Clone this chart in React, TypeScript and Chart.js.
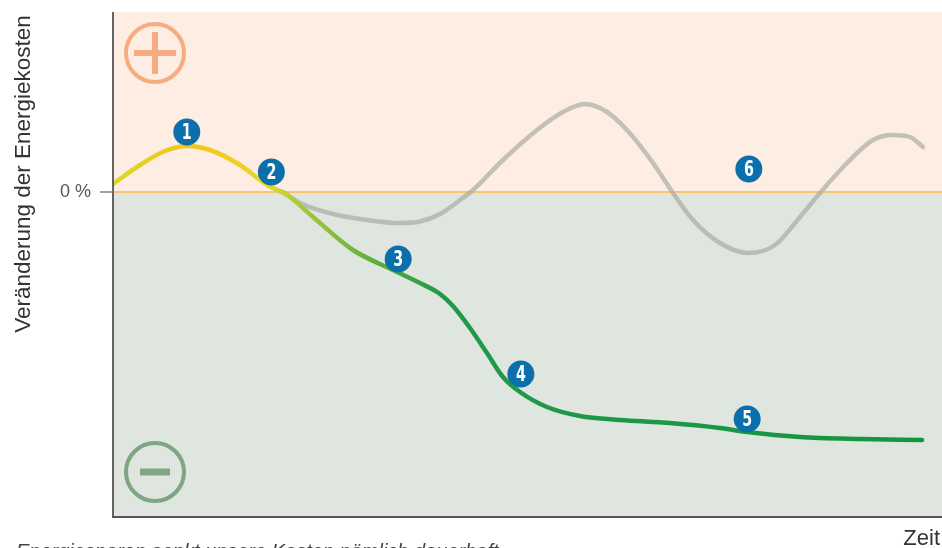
import React, { useEffect, useRef } from "react";
import { Chart, registerables } from "chart.js";

Chart.register(...registerables);

// Main development (yellow → green)
const mainX = [0, 3.26, 6.27, 8.93, 11.7, 15.32, 18.58, 21.01, 24.13, 28.95, 33.78, 37.03, 39.45, 41.01, 43.06, 45.11, 47.04, 49.1, 52.35, 56.33, 61.16, 67.19, 73.22, 76.48, 82.87, 90.11, 97.59];
const mainY = [1.6, 5.4, 8.2, 9.2, 8.4, 5.4, 1.4, -0.6, -5.0, -11.6, -15.6, -18.2, -20.4, -22.8, -27.2, -32.2, -37.0, -40.0, -43.0, -44.8, -45.6, -46.2, -47.2, -48.0, -49.0, -49.4, -49.6];

// Alternative development (grey)
const greyX = [20.51, 22.56, 26.54, 30.64, 34.62, 37.03, 39.45, 41.86, 43.43, 47.04, 51.15, 54.28, 56.94, 59.59, 62.0, 65.14, 67.55, 69.96, 73.22, 76.6, 79.86, 82.87, 85.28, 88.54, 91.68, 94.09, 96.14, 97.71];
const greyY = [0, -2.2, -4.4, -5.6, -6.2, -5.9, -4.4, -1.6, 0.4, 6.4, 12.4, 16.0, 17.6, 16.0, 12.4, 5.8, -0.2, -5.6, -10.2, -12.2, -10.6, -5.0, -0.2, 5.8, 10.4, 11.4, 11.0, 9.0];

// Numbered markers
const markerLabels = ["1", "2", "3", "4", "5", "6"];
const markerX = [8.9, 19.1, 34.4, 49.2, 76.5, 76.7];
const markerY = [12.0, 4.0, -13.4, -36.4, -45.4, 4.6];

const yTickLabel = "0 %";
const yTitle = "Veränderung der Energiekosten";
const xTitle = "Zeit";
const footnote = "Energiesparen senkt unsere Kosten nämlich dauerhaft";

const X_MIN = 0, X_MAX = 100, Y_MIN = -65, Y_MAX = 36;

const FONT = "'Liberation Sans', Arial, Helvetica, sans-serif";

const decorPlugin = {
  id: "decor",
  beforeDatasetsDraw(chart: any) {
    const { ctx, chartArea: a, scales } = chart;
    const y0 = scales.y.getPixelForValue(0);
    ctx.save();
    ctx.fillStyle = "#feede2";
    ctx.fillRect(a.left, a.top, a.right - a.left, y0 - a.top);
    ctx.fillStyle = "#dfe5df";
    ctx.fillRect(a.left, y0, a.right - a.left, a.bottom - y0);
    // zero line
    ctx.strokeStyle = "#f9c66e";
    ctx.lineWidth = 2;
    ctx.beginPath();
    ctx.moveTo(a.left, y0);
    ctx.lineTo(a.right, y0);
    ctx.stroke();
    // plus icon
    const cx = a.left + 42;
    const cyp = a.top + 41;
    ctx.strokeStyle = "#f6ab80";
    ctx.lineWidth = 4;
    ctx.beginPath();
    ctx.arc(cx, cyp, 29, 0, Math.PI * 2);
    ctx.stroke();
    ctx.fillStyle = "#f6ab80";
    ctx.fillRect(cx - 21, cyp - 3, 42, 6);
    ctx.fillRect(cx - 3, cyp - 21, 6, 42);
    // minus icon
    const cym = a.bottom - 45;
    ctx.strokeStyle = "#7fa583";
    ctx.beginPath();
    ctx.arc(cx, cym, 29, 0, Math.PI * 2);
    ctx.stroke();
    ctx.fillStyle = "#7fa583";
    ctx.fillRect(cx - 15, cym - 3.5, 30, 7);
    ctx.restore();
  },
  afterDatasetsDraw(chart: any) {
    const { ctx } = chart;
    const meta = chart.getDatasetMeta(2);
    ctx.save();
    ctx.fillStyle = "#ffffff";
    ctx.font = "bold 22px 'DejaVu Sans Condensed', 'Liberation Sans Narrow', sans-serif";
    ctx.textAlign = "center";
    ctx.textBaseline = "middle";
    meta.data.forEach((pt: any, i: number) => {
      ctx.save();
      ctx.translate(pt.x, pt.y + 1);
      ctx.scale(0.72, 1);
      ctx.fillText(markerLabels[i], 0, 0);
      ctx.restore();
    });
    ctx.restore();
  },
  afterDraw(chart: any) {
    const { ctx, chartArea: a, scales } = chart;
    const y0 = scales.y.getPixelForValue(0);
    ctx.save();
    // axes
    ctx.strokeStyle = "#333333";
    ctx.lineWidth = 1.5;
    ctx.beginPath();
    ctx.moveTo(a.left, a.top);
    ctx.lineTo(a.left, a.bottom + 1);
    ctx.stroke();
    ctx.strokeStyle = "#555555";
    ctx.lineWidth = 2;
    ctx.beginPath();
    ctx.moveTo(a.left - 1, a.bottom);
    ctx.lineTo(a.right, a.bottom);
    ctx.stroke();
    // y tick
    ctx.strokeStyle = "#808080";
    ctx.lineWidth = 1.5;
    ctx.beginPath();
    ctx.moveTo(a.left - 13, y0);
    ctx.lineTo(a.left, y0);
    ctx.stroke();
    ctx.fillStyle = "#555555";
    ctx.font = "18px " + FONT;
    ctx.textAlign = "right";
    ctx.textBaseline = "middle";
    ctx.fillText(yTickLabel, a.left - 22, y0);
    // y title
    ctx.save();
    ctx.translate(24, 174);
    ctx.rotate(-Math.PI / 2);
    ctx.fillStyle = "#333333";
    ctx.font = "22.5px " + FONT;
    ctx.textAlign = "center";
    ctx.textBaseline = "middle";
    ctx.fillText(yTitle, 0, 0);
    ctx.restore();
    // x title
    ctx.fillStyle = "#333333";
    ctx.font = "22px " + FONT;
    ctx.textAlign = "right";
    ctx.textBaseline = "alphabetic";
    ctx.fillText(xTitle, 940, 545);
    // footnote (cut off at bottom)
    ctx.fillStyle = "#444444";
    ctx.font = "italic 20px " + FONT;
    ctx.textAlign = "left";
    ctx.textBaseline = "top";
    ctx.fillText(footnote, 16, 542);
    ctx.restore();
  },
};

export default function App() {
  const ref = useRef<HTMLCanvasElement | null>(null);
  useEffect(() => {
    document.body.style.margin = "0";
    const canvas = ref.current!;
    const mainData = mainX.map((x, i) => ({ x, y: mainY[i] }));
    const greyData = greyX.map((x, i) => ({ x, y: greyY[i] }));
    const markerData = markerX.map((x, i) => ({ x, y: markerY[i] }));
    const chart = new Chart(canvas, {
      type: "line",
      data: {
        datasets: [
          {
            data: mainData,
            order: 1,
            borderWidth: 4.5,
            pointRadius: 0,
            cubicInterpolationMode: "monotone",
            borderCapStyle: "round",
            borderColor: (c: any) => {
              const ch = c.chart;
              const a = ch.chartArea;
              if (!a) return "#1a9641";
              const g = ch.ctx.createLinearGradient(a.left, 0, a.right, 0);
              const f = (px: number) => (px - a.left) / (a.right - a.left);
              g.addColorStop(0, "#d9d82c");
              g.addColorStop(f(190), "#f6c418");
              g.addColorStop(f(265), "#ecd628");
              g.addColorStop(f(300), "#a9c93a");
              g.addColorStop(f(365), "#66b23e");
              g.addColorStop(f(440), "#22994a");
              g.addColorStop(1, "#149540");
              return g;
            },
          },
          {
            data: greyData,
            order: 2,
            borderWidth: 4.5,
            pointRadius: 0,
            cubicInterpolationMode: "monotone",
            borderCapStyle: "round",
            borderColor: "rgba(170,172,164,0.7)",
          },
          {
            data: markerData,
            order: 0,
            showLine: false,
            pointRadius: 13.5,
            pointBackgroundColor: "#0b6fab",
            pointBorderWidth: 0,
            borderColor: "#0b6fab",
          },
        ],
      },
      options: {
        responsive: false,
        animation: false,
        events: [],
        layout: { autoPadding: false, padding: { left: 113, top: 12, right: 0, bottom: 31 } },
        plugins: { legend: { display: false }, tooltip: { enabled: false } },
        scales: {
          x: { type: "linear", min: X_MIN, max: X_MAX, display: false },
          y: { type: "linear", min: Y_MIN, max: Y_MAX, display: false },
        },
      },
      plugins: [decorPlugin],
    } as any);
    return () => chart.destroy();
  }, []);
  return (
    <div style={{ width: 942, height: 548 }}>
      <canvas ref={ref} width={942} height={548} style={{ display: "block" }} />
    </div>
  );
}
